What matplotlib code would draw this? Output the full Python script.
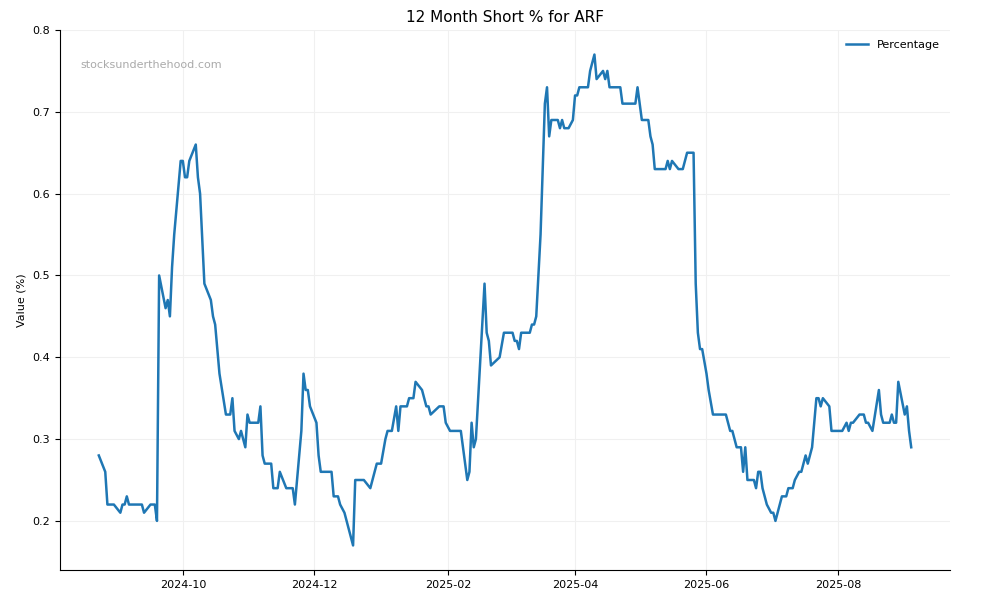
import matplotlib
matplotlib.use("Agg")
import matplotlib.pyplot as plt
import matplotlib.dates as mdates
import pandas as pd

start_date = "2024-10-01"
day_offsets = [-39,-36,-35,-32,-29,-28,-27,-26,-25,-19,-18,-15,-13,-12,-11,-8,-7,-6,-5,-4,-1,0,1,2,3,6,7,8,10,13,14,15,17,20,22,23,24,26,27,29,30,31,35,36,37,38,41,42,44,45,48,51,52,55,56,57,58,59,62,63,64,69,70,72,73,75,77,79,80,84,87,90,92,94,95,97,99,100,101,104,105,107,108,111,113,114,115,119,121,122,124,129,132,133,134,135,136,140,141,142,143,147,149,153,154,155,156,157,161,162,163,164,166,167,168,169,170,171,174,175,176,177,179,181,182,183,184,188,189,191,192,195,196,197,198,203,204,210,211,213,216,217,218,219,224,225,226,227,230,232,234,237,238,239,240,241,243,244,246,252,254,255,257,259,260,261,262,265,266,267,268,269,271,273,274,275,276,278,280,281,283,284,286,287,289,290,292,294,295,296,297,300,301,306,308,309,310,311,314,316,317,318,320,323,324,325,328,329,330,331,332,335,336,337,338]
values = [.28,.26,.22,.22,.21,.22,.22,.23,.22,.22,.21,.22,.22,.20,.50,.46,.47,.45,.51,.55,.64,.64,.62,.62,.64,.66,.62,.60,.49,.47,.45,.44,.38,.33,.33,.35,.31,.30,.31,.29,.33,.32,.32,.34,.28,.27,.27,.24,.24,.26,.24,.24,.22,.31,.38,.36,.36,.34,.32,.28,.26,.26,.23,.23,.22,.21,.19,.17,.25,.25,.24,.27,.27,.30,.31,.31,.34,.31,.34,.34,.35,.35,.37,.36,.34,.34,.33,.34,.34,.32,.31,.31,.25,.26,.32,.29,.30,.49,.43,.42,.39,.40,.43,.43,.42,.42,.41,.43,.43,.44,.44,.45,.55,.63,.71,.73,.67,.69,.69,.68,.69,.68,.68,.69,.72,.72,.73,.73,.75,.77,.74,.75,.74,.75,.73,.73,.71,.71,.73,.69,.69,.67,.66,.63,.63,.64,.63,.64,.63,.63,.65,.65,.49,.43,.41,.41,.38,.36,.33,.33,.31,.31,.29,.29,.26,.29,.25,.25,.24,.26,.26,.24,.22,.21,.21,.20,.21,.23,.23,.24,.24,.25,.26,.26,.28,.27,.29,.35,.35,.34,.35,.34,.31,.31,.32,.31,.32,.32,.33,.33,.32,.32,.31,.36,.33,.32,.32,.33,.32,.32,.37,.33,.34,.31,.29]

dates = pd.Timestamp(start_date) + pd.to_timedelta(day_offsets, unit="D")

fig, ax = plt.subplots(figsize=(10, 6), dpi=100)
fig.subplots_adjust(left=0.06, right=0.95, top=0.95, bottom=0.05)
ax.plot(dates, values, color="#1f77b4", linewidth=1.8, label="Percentage")
ax.set_title("12 Month Short % for ARF", fontsize=11)
ax.set_ylabel("Value (%)", fontsize=8)
ax.set_ylim(0.14, 0.8)
ax.set_xlim(pd.Timestamp("2024-08-05"), pd.Timestamp("2025-09-22"))
ax.xaxis.set_major_locator(mdates.MonthLocator(bymonth=[2,4,6,8,10,12]))
ax.xaxis.set_major_formatter(mdates.DateFormatter("%Y-%m"))
ax.tick_params(labelsize=8)
ax.grid(True, color="#f0f0f0", linewidth=0.8)
ax.spines["top"].set_visible(False)
ax.spines["right"].set_visible(False)
ax.text(0.023, 0.93, "stocksunderthehood.com", transform=ax.transAxes, color="#aaaaaa", fontsize=8)
ax.legend(loc="upper right", frameon=False, fontsize=8)
fig.savefig("out.png")
